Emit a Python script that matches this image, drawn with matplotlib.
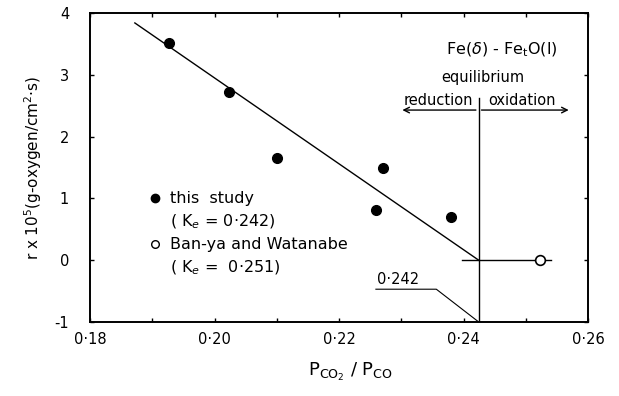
import numpy as np
import matplotlib
matplotlib.use('Agg')
import matplotlib.pyplot as plt

plt.rcParams['font.family'] = ['DejaVu Sans']
plt.rcParams['axes.unicode_minus'] = False

# this study (filled points)
ratio = [0.1927, 0.2023, 0.2101, 0.2270, 0.2259, 0.2380]
rate = [3.51, 2.73, 1.66, 1.50, 0.82, 0.70]

# Ban-ya and Watanabe (open point)
ratio_bw = [0.2522]
rate_bw = [0.0]

# fitted line
fit_x = [0.1872, 0.2424]
fit_y = [3.84, 0.0]

ke = 0.2424

xticks = [0.18, 0.20, 0.22, 0.24, 0.26]
xticklabels = ['0·18', '0·20', '0·22', '0·24', '0·26']
yticks = [-1, 0, 1, 2, 3, 4]

fig = plt.figure(figsize=(6.19, 3.96), dpi=100)
ax = fig.add_axes([0.1454, 0.187, 0.805, 0.780])

ax.plot(fit_x, fit_y, color='black', lw=1.0)
ax.plot(ratio, rate, 'o', color='black', ms=7)
ax.plot([0.2397, 0.2540], [0, 0], color='black', lw=1.0)
ax.plot(ratio_bw, rate_bw, 'o', mfc='white', mec='black', mew=1.2, ms=7)

# equilibrium line
ax.plot([ke, ke], [2.62, -1], color='black', lw=1.0)
ax.annotate('', xy=(0.2297, 2.43), xytext=(ke, 2.43),
            arrowprops=dict(arrowstyle='->', color='black', lw=1.0))
ax.annotate('', xy=(0.2573, 2.43), xytext=(ke, 2.43),
            arrowprops=dict(arrowstyle='->', color='black', lw=1.0))
ax.text(0.2461, 3.40, r'Fe($\delta$) - Fe$_\mathregular{t}$O(l)', ha='center', va='center', fontsize=11.5)
ax.text(0.2430, 2.96, 'equilibrium', ha='center', va='center', fontsize=10.5)
ax.text(0.2360, 2.58, 'reduction', ha='center', va='center', fontsize=10.5)
ax.text(0.2494, 2.58, 'oxidation', ha='center', va='center', fontsize=10.5)

# 0.242 leader
ax.plot([ke, 0.2356, 0.2259], [-1, -0.47, -0.47], color='black', lw=0.8)
ax.text(0.2294, -0.32, '0·242', ha='center', va='center', fontsize=10.5)

# legend drawn by hand
ax.plot([0.1904], [1.0], 'o', color='black', ms=6)
ax.plot([0.1904], [0.26], 'o', mfc='white', mec='black', mew=1.0, ms=5.5)
ax.text(0.1928, 1.0, 'this  study', va='center', fontsize=11.5)
ax.text(0.1928, 0.62, r'( K$_\mathit{e}$ = 0·242)', va='center', fontsize=11.5)
ax.text(0.1928, 0.26, 'Ban-ya and Watanabe', va='center', fontsize=11.5)
ax.text(0.1928, -0.13, r'( K$_\mathit{e}$ =  0·251)', va='center', fontsize=11.5)

ax.set_xlim(0.18, 0.26)
ax.set_ylim(-1, 4)
ax.set_xticks(xticks)
ax.set_xticklabels(xticklabels)
ax.set_xticks(np.arange(0.19, 0.26, 0.02), minor=True)
ax.set_yticks(yticks)
ax.tick_params(direction='in', top=True, right=True, length=3, width=1.0, labelsize=10.5)
ax.tick_params(which='minor', direction='in', top=True, length=3, width=1.0)
ax.tick_params(axis='x', pad=7)
ax.tick_params(axis='y', pad=15)
for s in ax.spines.values():
    s.set_linewidth(1.4)

ax.set_xlabel(r'P$_{\mathregular{CO_2}}$ / P$_{\mathregular{CO}}$', fontsize=13)
ax.xaxis.set_label_coords(0.522, -0.125)
ax.set_ylabel(r'r x 10$^5$(g-oxygen/cm$^2$·s)', fontsize=11)
ax.yaxis.set_label_coords(-0.093, 0.5)

fig.savefig('out.png', dpi=100)
